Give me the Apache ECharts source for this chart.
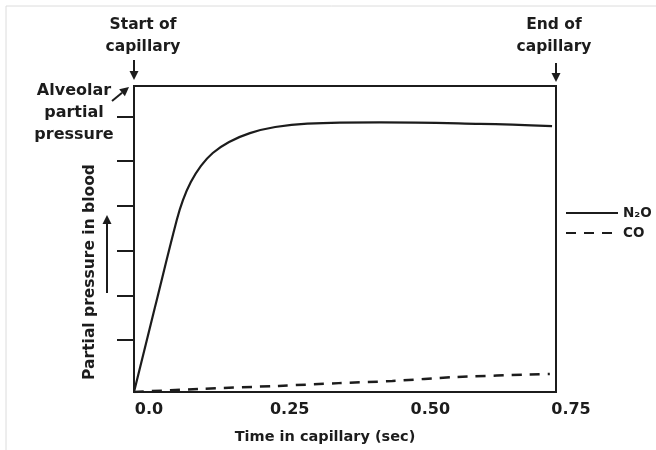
<!DOCTYPE html>
<html><head><meta charset="utf-8">
<script src="https://cdn.jsdelivr.net/npm/echarts@6/dist/echarts.min.js"></script>
<style>html,body{margin:0;padding:0;background:#fff}#c{width:656px;height:450px}</style>
</head><body><div id="c"></div>
<script>
// ---- data ----
const seriesNames = ['N\u2082O', 'CO'];
const n2oTime     = [0, 0.037, 0.076, 0.087, 0.101, 0.119, 0.140, 0.169, 0.206, 0.251, 0.308, 0.437, 0.615, 0.743];
const n2oPressure = [0, 27.5, 56.2, 62.7, 68.6, 73.9, 78.1, 81.7, 84.6, 86.6, 87.7, 88.1, 87.6, 86.9];
const coTime      = [0, 0.114, 0.257, 0.364, 0.459, 0.573, 0.739];
const coPressure  = [0, 1.0, 2.0, 2.9, 3.6, 4.9, 5.9];
const xTickValues = [0, 0.25, 0.5, 0.75];
const xTickLabels = ['0.0', '0.25', '0.50', '0.75'];
const yTickValues = [17, 31.5, 46, 61, 75.5, 90];
const alveolarPressure = 100;
const startLabel = 'Start of\ncapillary';
const endLabel = 'End of\ncapillary';
const alveolarLabel = 'Alveolar\npartial\npressure';
const xName = 'Time in capillary (sec)';
const yName = 'Partial pressure in blood';

// ---- chart ----
const INK = '#1c1c1c';
const FONT = 'DejaVu Sans';
const chart = echarts.init(document.getElementById('c'), null, {renderer: 'canvas'});
const zip = (a, b) => a.map((v, i) => [v, b[i]]);

chart.setOption({
  animation: false,
  backgroundColor: '#fff',
  grid: {left: 134, right: 100, top: 86, bottom: 58, show: true, borderColor: INK, borderWidth: 2, backgroundColor: 'transparent'},
  xAxis: {
    type: 'value', min: 0, max: 0.75, interval: 0.25,
    axisLine: {show: true, lineStyle: {color: INK, width: 2}},
    axisTick: {show: false},
    splitLine: {show: false},
    axisLabel: {
      customValues: xTickValues,
      formatter: v => xTickLabels[Math.round(v / 0.25)],
      color: INK, fontFamily: FONT, fontWeight: 'bold', fontSize: 16,
      margin: 10, padding: [0, 0, 0, 30]
    },
    name: xName, nameLocation: 'middle', nameGap: 38,
    nameTextStyle: {color: INK, fontFamily: FONT, fontWeight: 'bold', fontSize: 14.5, padding: [0, 40, 0, 0]}
  },
  yAxis: {
    type: 'value', min: 0, max: 100,
    axisLine: {show: true, lineStyle: {color: INK, width: 2}},
    axisTick: {show: true, customValues: yTickValues, length: 17, inside: false, lineStyle: {color: INK, width: 2}},
    axisLabel: {show: false},
    splitLine: {show: false},
    name: yName, nameLocation: 'middle', nameGap: 36, nameRotate: 90,
    nameTextStyle: {color: INK, fontFamily: FONT, fontWeight: 'bold', fontSize: 15.5, padding: [0, 66, 0, 0]}
  },
  legend: {
    orient: 'vertical', left: 565, top: 206, padding: 0,
    itemWidth: 52, itemHeight: 14, itemGap: 6,
    data: seriesNames,
    itemStyle: {opacity: 0},
    textStyle: {color: INK, fontFamily: FONT, fontWeight: 'bold', fontSize: 13.5, padding: [0, 0, 0, 0]}
  },
  series: [
    {name: seriesNames[0], type: 'line', data: zip(n2oTime, n2oPressure), smooth: 0.4,
     symbol: 'none', lineStyle: {color: INK, width: 2.2}, itemStyle: {color: INK}},
    {name: seriesNames[1], type: 'line', data: zip(coTime, coPressure), smooth: 0.3,
     symbol: 'none', lineStyle: {color: INK, width: 2.5, type: [10, 8]}, itemStyle: {color: INK}}
  ]
});

function arrow(x1, y1, x2, y2) {
  const L = 9, W = 4.5;
  const dx = x2 - x1, dy = y2 - y1, len = Math.hypot(dx, dy);
  const ux = dx / len, uy = dy / len;
  const bx = x2 - ux * L, by = y2 - uy * L;
  return [
    {type: 'line', shape: {x1: x1, y1: y1, x2: bx, y2: by}, style: {stroke: INK, lineWidth: 2}},
    {type: 'polygon', shape: {points: [[x2, y2], [bx - uy * W, by + ux * W], [bx + uy * W, by - ux * W]]}, style: {fill: INK}}
  ];
}
const p0 = chart.convertToPixel({gridIndex: 0}, [0, alveolarPressure]);
const p1 = chart.convertToPixel({gridIndex: 0}, [0.75, alveolarPressure]);
const txt = (s, x, y, align, size) => ({type: 'text', x: x, y: y,
  style: {text: s, fill: INK, font: 'bold ' + size + 'px "' + FONT + '"', textAlign: align, textVerticalAlign: 'top', lineHeight: 22}});
chart.setOption({graphic: [
  {type: 'rect', shape: {x: 6, y: 6, width: 700, height: 500}, style: {fill: 'none', stroke: '#dcdcdc', lineWidth: 1}, silent: true},
  txt(startLabel, p0[0] + 9, 14, 'center', 15.5),
  txt(endLabel, p1[0] - 2, 14, 'center', 15.5),
  txt(alveolarLabel, 74, 80, 'center', 16),
  ...arrow(p0[0], 60, p0[0], p0[1] - 6),
  ...arrow(p1[0], 63, p1[0], p1[1] - 4),
  ...arrow(112, 101, p0[0] - 5, p0[1] + 1),
  ...arrow(107, 293, 107, 215)
]});
</script>
</body></html>
